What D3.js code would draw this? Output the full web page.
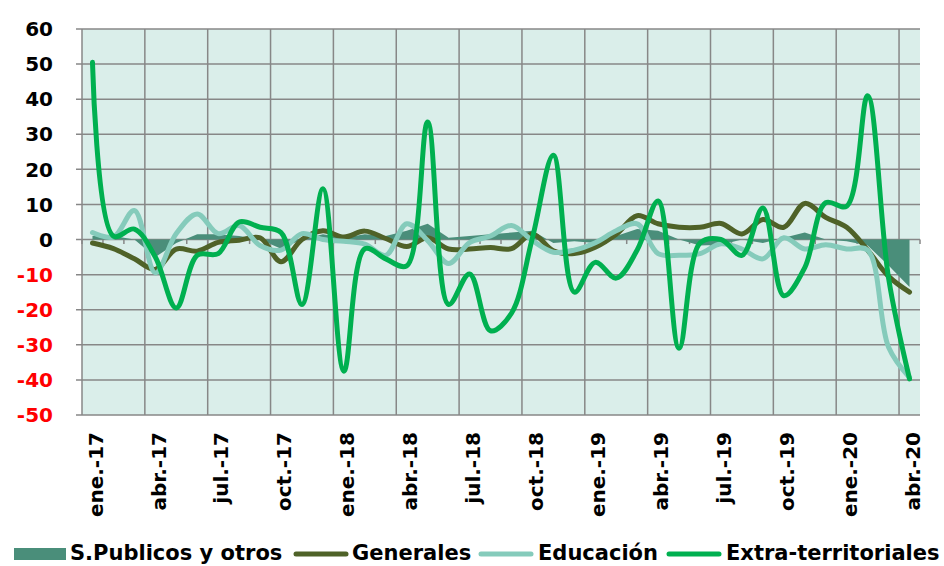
<!DOCTYPE html>
<html><head><meta charset="utf-8">
<script src="https://cdn.jsdelivr.net/npm/d3@7"></script>
<style>
html,body{margin:0;padding:0;background:#fff;}
svg{display:block;font-family:"DejaVu Sans",Verdana,sans-serif;font-weight:bold;}
</style></head>
<body><svg id="c" width="944" height="566"></svg>
<script>
const months = ["ene.-17","feb.-17","mar.-17","abr.-17","may.-17","jun.-17","jul.-17","ago.-17","sep.-17","oct.-17","nov.-17","dic.-17",
"ene.-18","feb.-18","mar.-18","abr.-18","may.-18","jun.-18","jul.-18","ago.-18","sep.-18","oct.-18","nov.-18","dic.-18",
"ene.-19","feb.-19","mar.-19","abr.-19","may.-19","jun.-19","jul.-19","ago.-19","sep.-19","oct.-19","nov.-19","dic.-19",
"ene.-20","feb.-20","mar.-20","abr.-20"];
const tickLabels = ["ene.-17","abr.-17","jul.-17","oct.-17","ene.-18","abr.-18","jul.-18","oct.-18","ene.-19","abr.-19","jul.-19","oct.-19","ene.-20","abr.-20"];
const yTicks = [-50,-40,-30,-20,-10,0,10,20,30,40,50,60];

const sPublicos = [1,1,0,-5,-1,1.5,1.5,1,0,-2.6,0,1.5,0.5,1.5,1,2.5,4.5,0.5,1,1.5,2,2.5,-1,-0.5,-1,1,3,2.5,0,-1.7,-1.5,0,-1,0.5,2,0,-0.5,-1.7,-7.4,-13.5];
const generales = [-1,-2.6,-5.5,-8.5,-2.7,-3.3,-0.8,-0.2,0.5,-6.3,0,2.5,0.7,2.4,0.3,-2,0.5,-2.7,-2.7,-2.3,-2.6,1.6,-3.2,-4,-2.2,1.5,6.8,4.5,3.5,3.5,4.6,1.6,5.7,3.5,10.3,6.3,3.5,-3,-10.5,-15];
const educacion = [2,0.7,8.3,-9.5,1.7,7.3,1.7,4,-1.7,-3,1.7,0,-0.5,-1.3,-4.5,4.5,-0.3,-6.8,-0.9,1,4,-0.3,-3.6,-3,-0.9,2.5,4.5,-4,-4.5,-4,-1.2,-2.7,-5.5,0.5,-2.7,-1.5,-2.7,-3,-30.7,-39.3];
const extra = [50.5,1,3,-5,-19.5,-4.5,-4,5,3.5,2,-18.5,14.5,-37.5,-2.6,-5.5,-7.5,33.5,-18.5,-9.8,-26,-21,0.5,24,-15,-6.5,-11,-3,11,-31,-1,0,-4.5,9,-16,-8,10.5,9.5,41,-11,-39.7];

const seriesNames = ["S.Publicos y otros","Generales","Educación","Extra-territoriales"];
const colors = {area:"#4A8E7A", gen:"#4F6228", edu:"#85CBBB", ext:"#00B050", grid:"#878787", bg:"#DAEEEA"};

const svg = d3.select("#c");
const L=82, R=920, T=29, B=415;
const x = d3.scaleBand().domain(months).range([L,R]).padding(0);
const cx = m => x(m)+x.bandwidth()/2;
const y = d3.scaleLinear().domain([-50,60]).range([B,T]);

svg.append("rect").attr("x",L).attr("y",T).attr("width",R-L).attr("height",B-T).attr("fill",colors.bg);

svg.append("g").selectAll("line").data(yTicks).join("line")
  .attr("x1",L-6).attr("x2",R).attr("y1",d=>y(d)).attr("y2",d=>y(d))
  .attr("stroke",colors.grid).attr("stroke-width",1.5);
const vIdx = d3.range(0,months.length,3);
svg.append("g").selectAll("line").data(vIdx).join("line")
  .attr("x1",i=>x(months[i])).attr("x2",i=>x(months[i])).attr("y1",T).attr("y2",B)
  .attr("stroke",colors.grid).attr("stroke-width",1.5);
svg.append("g").selectAll("line").data(d3.range(0,months.length+1)).join("line")
  .attr("x1",i=> i<months.length? x(months[i]) : R).attr("x2",i=> i<months.length? x(months[i]) : R)
  .attr("y1",y(0)).attr("y2",y(0)+4.5)
  .attr("stroke",colors.grid).attr("stroke-width",1.5);

const area = d3.area().x((d,i)=>cx(months[i])).y0(y(0)).y1(d=>y(d));
svg.append("path").datum(sPublicos).attr("d",area).attr("fill",colors.area);

const line = d3.line().x((d,i)=>cx(months[i])).y(d=>y(d)).curve(d3.curveCatmullRom.alpha(0.5));
[[generales,colors.gen],[educacion,colors.edu],[extra,colors.ext]].forEach(([s,c])=>{
  svg.append("path").datum(s).attr("d",line).attr("fill","none").attr("stroke",c)
    .attr("stroke-width",5).attr("stroke-linecap","round").attr("stroke-linejoin","round");
});

svg.append("g").selectAll("text").data(yTicks).join("text")
  .attr("x",53).attr("y",d=>y(d)).attr("dy","0.36em").attr("text-anchor","end")
  .attr("font-size",20).attr("fill",d=>d<0?"#FF0000":"#000").text(d=>d);

svg.append("g").selectAll("text").data(tickLabels).join("text")
  .attr("transform",d=>`translate(${cx(d)+3},432) rotate(-90)`)
  .attr("dy","0.36em").attr("text-anchor","end").attr("font-size",20).attr("fill","#000").text(d=>d);

const legendX = [[14,70],[294,352],[479,538],[667,726]];
const lg = svg.append("g");
const ly = 554;
seriesNames.forEach((n,k)=>{
  const [sx,tx] = legendX[k];
  if(k===0){
    lg.append("rect").attr("x",sx).attr("y",ly-6).attr("width",52).attr("height",12).attr("fill",colors.area);
  } else {
    const c=[null,colors.gen,colors.edu,colors.ext][k];
    lg.append("line").attr("x1",sx+2).attr("x2",sx+52).attr("y1",ly).attr("y2",ly)
      .attr("stroke",c).attr("stroke-width",5).attr("stroke-linecap","round");
  }
  lg.append("text").attr("x",tx).attr("y",ly).attr("dy","0.3em").attr("font-size",21).attr("fill","#000").text(n);
});
</script></body></html>
